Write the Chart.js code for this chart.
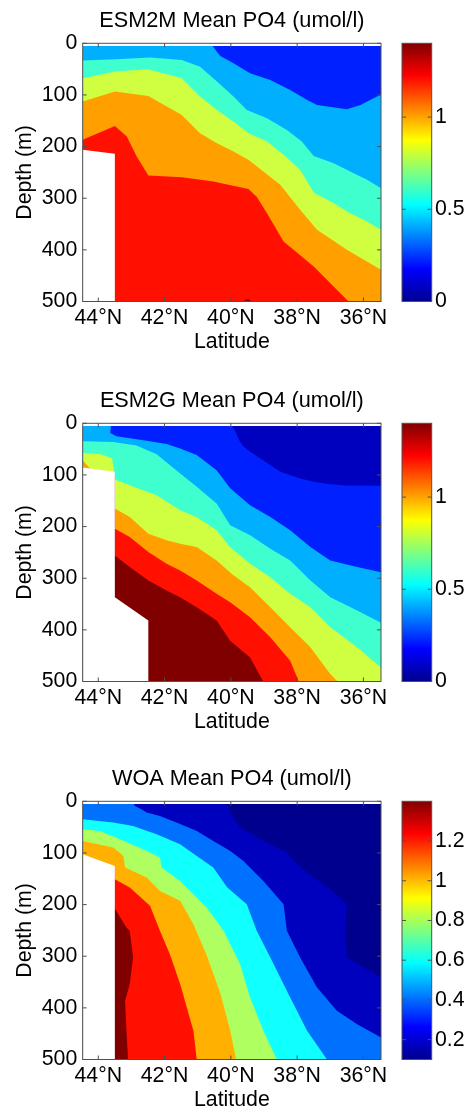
<!DOCTYPE html>
<html><head><meta charset="utf-8">
<script src="https://cdn.jsdelivr.net/npm/chart.js@4.4.1/dist/chart.umd.min.js"></script>
<style>
html,body{margin:0;padding:0;background:#fff;overflow:hidden;width:468px;height:1112px;}
canvas{position:absolute;}
</style></head><body>
<canvas id="m1" width="468" height="360" style="left:0;top:0"></canvas>
<canvas id="b1" width="78" height="360" style="left:390px;top:0"></canvas>
<canvas id="m2" width="468" height="360" style="left:0;top:380px"></canvas>
<canvas id="b2" width="78" height="360" style="left:390px;top:380px"></canvas>
<canvas id="m3" width="468" height="360" style="left:0;top:758px"></canvas>
<canvas id="b3" width="78" height="360" style="left:390px;top:758px"></canvas>
<script>
// ---------- axes / tick values ----------
const latRange = [35.47, 44.47];
const depthRange = [0, 500];
const latTicks = [44, 42, 40, 38, 36];
const depthTicks = [0, 100, 200, 300, 400, 500];
const surfaceDepth = 5;

// ---------- ESM2M contours [lat, depth] (band below each contour) ----------
const esm2mC04 = [[44.47,5],[40.55,5],[40.45,14],[40.32,24.6],[39.92,38.7],[39.42,58],[38.81,71],[38.21,90.4],[37.70,109.7],[37.40,119.4],[36.50,127.7],[36.09,119.4],[35.59,103],[35.47,100]];
const esm2mC06 = [[44.47,33.5],[43.45,31],[42.44,27.7],[41.48,32.2],[40.93,45.2],[40.42,74.2],[39.92,103.2],[39.52,129],[38.91,145.1],[38.31,167.7],[37.86,190.3],[37.50,218],[36.90,232.2],[36.40,248.3],[35.89,264.4],[35.47,280.6]];
const esm2mC08 = [[44.47,67.7],[43.50,54.8],[42.49,50.3],[41.48,67.7],[40.93,103.2],[40.42,129],[39.92,151.6],[39.47,174.2],[38.91,190.3],[38.41,216],[37.91,245],[37.50,289],[36.90,309.6],[36.40,329],[35.89,345],[35.47,361]];
const esm2mC10 = [[44.47,112.9],[43.50,93.5],[42.49,101.9],[41.48,138.7],[40.93,174.2],[40.42,193.5],[39.92,209.6],[39.47,225.7],[38.51,274],[37.91,322.5],[37.40,361],[36.50,400],[35.47,438.7]];
const esm2mC12 = [[44.47,187],[43.50,160],[43.14,180.6],[42.84,219.3],[42.49,256],[41.48,259.3],[40.53,267.7],[39.47,282],[39.22,297],[38.91,329],[38.41,384],[37.50,432],[36.45,500]];
const esm2mC14 = [[39.65,500],[39.50,495],[39.35,500]];
const esm2mNoData = [[44.47,206],[43.50,214],[43.50,500]];

// ---------- ESM2G contours ----------
const esm2gC02 = [[44.47,5],[39.95,5],[39.85,18],[39.75,33],[39.62,45],[39.42,55],[39.02,72],[38.51,94],[37.90,107],[37.50,113],[37.00,118],[36.50,120.5],[35.47,121]];
const esm2gC04 = [[44.47,5],[43.62,5],[43.64,19],[43.45,25],[42.54,34],[41.94,40],[41.53,48.6],[41.03,61.6],[40.43,90.7],[40.02,126],[39.42,158.7],[38.81,181.4],[38.21,207.3],[37.60,239.6],[37.00,265.5],[36.19,278.5],[35.47,288.5]];
const esm2gC06 = [[44.47,35],[43.55,36],[42.85,43],[42.24,60],[41.53,97],[41.03,123],[40.43,155.5],[40.02,197.6],[39.42,217],[38.81,242.9],[38.21,265.5],[37.60,304.4],[37.00,336.8],[36.19,362.7],[35.47,386]];
const esm2gC08 = [[44.47,57],[43.90,60],[43.58,68],[43.53,94],[43.50,109],[43.05,120],[42.24,139.3],[41.53,168.4],[41.03,181.4],[40.43,207.3],[40.02,240],[39.42,272],[38.81,297.9],[38.21,330.3],[37.60,356.2],[37.00,395],[36.19,433.9],[35.47,473]];
const esm2gC10 = [[44.47,72],[44.25,87],[44.00,100],[43.51,100],[43.50,165],[43.05,181.4],[42.49,213.7],[41.94,226.7],[41.53,233.2],[41.03,239.6],[40.43,265.5],[39.95,293],[39.42,317.3],[38.81,356.2],[38.21,395],[37.60,433.9],[37.00,485.7],[36.78,500]];
const esm2gC12 = [[44.47,100],[43.51,100],[43.50,204],[43.05,220.2],[42.49,249.4],[41.94,272],[41.53,284.9],[41.03,304.4],[40.43,330.3],[40.02,346.5],[39.42,375.6],[38.81,414.4],[38.21,459.8],[37.95,500]];
const esm2gC14 = [[44.47,100],[43.51,100],[43.50,255.8],[43.05,278.5],[42.49,304.4],[41.94,323.8],[41.53,336.8],[41.03,356.2],[40.43,382.1],[40.02,420.9],[39.42,453.3],[39.02,500]];
const esm2gNoData = [[44.47,85.5],[43.50,94],[43.50,337],[42.49,382],[42.49,500]];

// ---------- WOA contours ----------
const woaC02 = [[44.47,5],[40.15,5],[40.08,12],[40.02,21.9],[39.72,50.9],[39.02,76.7],[38.31,99.3],[38.01,121.9],[37.50,147.7],[37.00,170.3],[36.50,199.3],[36.55,250.9],[36.50,302.5],[35.99,321.9],[35.47,341.2]];
const woaC04 = [[44.47,5],[42.92,5],[42.90,9],[42.70,15.4],[42.54,21.9],[42.14,28.3],[41.53,44],[41.03,57.4],[40.53,76.7],[40.02,96.1],[39.62,115.5],[39.02,154.1],[38.41,199.3],[38.31,250.9],[37.91,302.5],[37.40,360.6],[36.80,405.7],[36.19,431.5],[35.47,457.4]];
const woaC06 = [[44.47,34.8],[43.55,41.2],[42.95,47.7],[42.24,63.8],[41.53,83.2],[41.03,105.7],[40.53,128.3],[40.12,166],[40.02,172],[39.52,199.3],[39.22,250.9],[38.81,302.5],[38.21,379.9],[37.70,444.5],[37.10,500]];
const woaC08 = [[44.47,54.1],[43.95,57.4],[43.34,73.5],[42.54,96.1],[42.14,109],[42.09,128.3],[41.53,154.1],[41.13,180],[40.73,205.8],[40.22,250.9],[40.02,276.7],[39.72,315.4],[39.42,379.9],[39.02,444.5],[38.61,500]];
const woaC10 = [[44.47,76.7],[43.55,89.6],[43.24,105.7],[43.19,128.3],[42.54,147.7],[42.14,173.5],[41.53,192.8],[41.13,238],[40.73,298],[40.32,371],[40.02,444],[39.84,500]];
const woaC12 = [[44.47,110],[43.51,130],[43.50,151],[43.05,167],[42.44,202.5],[42.14,250.9],[41.84,296],[41.53,354],[41.13,444.5],[41.03,500]];
const woaC14 = [[43.52,205.8],[43.15,244.5],[43.05,251],[42.95,302.5],[43.05,354],[43.19,386.5],[43.15,444.5],[43.10,500]];
const woaNoData = [[44.47,102.6],[43.50,125.2],[43.50,500]];

// ---------- colour bars ----------
const esm2mColorRange = [0, 1.4];
const esm2gColorRange = [0, 1.4];
const woaColorRange = [0.1, 1.4];
const esmColorTicks = [0, 0.5, 1];
const woaColorTicks = [0.2, 0.4, 0.6, 0.8, 1, 1.2];

// ---------- styles ----------
const esm2mColors = ['#0020ff','#00b0ff','#40ffcf','#cfff40','#ffa000','#ff1000','#800000'];
const esm2gColors = ['#0000bf','#0020ff','#00b0ff','#40ffcf','#cfff40','#ffa000','#ff1000','#800000'];
const woaColors   = ['#00008f','#0000bf','#0070ff','#10ffff','#b0ff60','#ffb000','#ff1000','#800000'];
const jetStops = [[0,'#00008f'],[0.125,'#0000ff'],[0.375,'#00ffff'],[0.625,'#ffff00'],[0.875,'#ff0000'],[1,'#800000']];
const FONT = '"Liberation Sans", Arial, Helvetica, sans-serif';
const FS = 21.3;
const FRAME = '#505050';

Chart.defaults.font.family = FONT;
Chart.defaults.color = '#000';

const framePlugin = {
  id: 'frame',
  afterDraw(chart, args, opts) {
    const {ctx, chartArea: a} = chart;
    const L = 4;
    ctx.save();
    ctx.strokeStyle = FRAME; ctx.lineWidth = 1;
    ctx.strokeRect(a.left, a.top, a.right - a.left, a.bottom - a.top);
    ctx.beginPath();
    (opts.h || []).forEach(id => {
      const s = chart.scales[id];
      s.ticks.forEach(t => { const p = s.getPixelForValue(t.value);
        ctx.moveTo(p, a.bottom); ctx.lineTo(p, a.bottom - L);
        ctx.moveTo(p, a.top); ctx.lineTo(p, a.top + L); });
    });
    (opts.v || []).forEach(id => {
      const s = chart.scales[id];
      s.ticks.forEach(t => { const p = s.getPixelForValue(t.value);
        ctx.moveTo(a.left, p); ctx.lineTo(a.left + L, p);
        ctx.moveTo(a.right, p); ctx.lineTo(a.right - L, p); });
    });
    ctx.stroke();
    ctx.restore();
  }
};

function polygon(contour) {
  const pts = contour.map(([lat, d]) => ({x: lat, y: d}));
  const first = contour[0], last = contour[contour.length - 1];
  pts.push({x: last[0], y: depthRange[1]}, {x: first[0], y: depthRange[1]});
  return pts;
}
const surface = [[latRange[1], surfaceDepth], [latRange[0], surfaceDepth]];

function makePanel(id, title, contours, colors, noData) {
  const n = contours.length;
  const datasets = contours.map((c, k) => ({
    data: polygon(c), backgroundColor: colors[k], borderColor: 'rgba(0,0,0,0)', borderWidth: 0,
    fill: 'shape', pointRadius: 0, tension: 0, order: n - k
  }));
  datasets.push({data: polygon(noData), backgroundColor: '#ffffff', borderColor: 'rgba(0,0,0,0)',
    borderWidth: 0, fill: 'shape', pointRadius: 0, tension: 0, order: 0});
  new Chart(document.getElementById(id), {
    type: 'line',
    data: {datasets},
    plugins: [framePlugin],
    options: {
      responsive: false, animation: false, devicePixelRatio: 1, events: [],
      layout: {padding: {left: 0, right: 87, top: 0, bottom: 0}},
      plugins: {
        legend: {display: false}, tooltip: {enabled: false}, title: {display: false},
        frame: {h: ['x'], v: ['y']}
      },
      scales: {
        xTop: {type: 'linear', position: 'top', min: latRange[0], max: latRange[1], reverse: true,
          afterFit: s => { s.height = 43.3; },
          grid: {display: false, drawTicks: false}, border: {display: false}, ticks: {display: false},
          title: {display: true, text: title, color: '#000', font: {size: 21.7, lineHeight: 1.2}, padding: {top: 8.0, bottom: 0}}},
        x: {type: 'linear', position: 'bottom', reverse: true, min: latRange[0], max: latRange[1],
          afterBuildTicks: s => { s.ticks = latTicks.map(v => ({value: v})); },
          afterFit: s => { s.height = 58.5; },
          grid: {display: false, drawTicks: false}, border: {display: false},
          ticks: {font: {size: FS}, color: '#000', padding: 4, maxRotation: 0, minRotation: 0, autoSkip: false, callback: v => v + '°N'},
          title: {display: true, text: 'Latitude', color: '#000', font: {size: FS, lineHeight: 1.2}, padding: {top: 0, bottom: 4.9}}},
        y: {type: 'linear', reverse: true, min: depthRange[0], max: depthRange[1],
          afterBuildTicks: s => { s.ticks = depthTicks.map(v => ({value: v})); },
          afterFit: s => { s.width = 82.7; },
          grid: {display: false, drawTicks: false}, border: {display: false},
          ticks: {font: {size: FS}, color: '#000', padding: 5.4, autoSkip: false},
          title: {display: true, text: 'Depth (m)', color: '#000', font: {size: FS, lineHeight: 1.2}, padding: {top: 12.1, bottom: 0}}}
      }
    }
  });
}

function jetGradient(ctx) {
  const chart = ctx.chart; const a = chart.chartArea;
  if (!a) return '#888';
  const g = chart.ctx.createLinearGradient(0, a.bottom, 0, a.top);
  jetStops.forEach(([f, c]) => g.addColorStop(f, c));
  return g;
}

function makeColorbar(id, range, ticks) {
  new Chart(document.getElementById(id), {
    type: 'bar',
    data: {labels: ['c'], datasets: [{data: [[range[0], range[1]]], backgroundColor: jetGradient, borderWidth: 0, barPercentage: 1, categoryPercentage: 1}]},
    plugins: [framePlugin],
    options: {
      responsive: false, animation: false, devicePixelRatio: 1, events: [],
      layout: {padding: {left: 12, right: 0, top: 43.3, bottom: 58.5}},
      plugins: {legend: {display: false}, tooltip: {enabled: false}, title: {display: false}, frame: {h: [], v: ['y']}},
      scales: {
        x: {display: false},
        y: {position: 'right', min: range[0], max: range[1],
          afterBuildTicks: s => { s.ticks = ticks.map(v => ({value: v})); },
          afterFit: s => { s.width = 36.3; },
          grid: {display: false, drawTicks: false}, border: {display: false},
          ticks: {font: {size: FS}, color: '#000', padding: 3.3, autoSkip: false, callback: v => String(v)}}
      }
    }
  });
}

makePanel('m1', 'ESM2M Mean PO4 (umol/l)', [surface, esm2mC04, esm2mC06, esm2mC08, esm2mC10, esm2mC12, esm2mC14], esm2mColors, esm2mNoData);
makePanel('m2', 'ESM2G Mean PO4 (umol/l)', [surface, esm2gC02, esm2gC04, esm2gC06, esm2gC08, esm2gC10, esm2gC12, esm2gC14], esm2gColors, esm2gNoData);
makePanel('m3', 'WOA Mean PO4 (umol/l)', [surface, woaC02, woaC04, woaC06, woaC08, woaC10, woaC12, woaC14], woaColors, woaNoData);
makeColorbar('b1', esm2mColorRange, esmColorTicks);
makeColorbar('b2', esm2gColorRange, esmColorTicks);
makeColorbar('b3', woaColorRange, woaColorTicks);
</script>
</body></html>
